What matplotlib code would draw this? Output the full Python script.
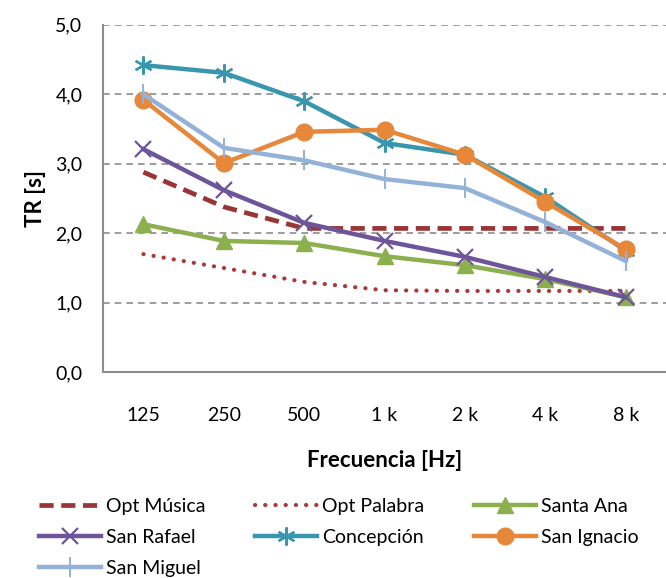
import matplotlib
matplotlib.use("Agg")
import matplotlib.pyplot as plt

plt.rcParams['font.family'] = ['Lato', 'DejaVu Sans']

frecuencias = ['125', '250', '500', '1 k', '2 k', '4 k', '8 k']

opt_musica = [2.88, 2.38, 2.07, 2.07, 2.07, 2.07, 2.07]
opt_palabra = [1.70, 1.50, 1.30, 1.18, 1.17, 1.17, 1.17]
santa_ana = [2.13, 1.89, 1.86, 1.67, 1.54, 1.34, 1.08]
san_rafael = [3.21, 2.62, 2.15, 1.89, 1.66, 1.37, 1.08]
concepcion = [4.42, 4.31, 3.90, 3.30, 3.13, 2.52, 1.75]
san_ignacio = [3.92, 3.01, 3.46, 3.49, 3.13, 2.45, 1.77]
san_miguel = [4.00, 3.23, 3.05, 2.78, 2.65, 2.16, 1.60]

fig = plt.figure(figsize=(6.66, 5.78), dpi=100)
ax = fig.add_axes([0.155, 0.356, 0.845, 0.601])

x = range(len(frecuencias))
lw = 3.2

h_om, = ax.plot(x, opt_musica, color='#9B3535', lw=3.4, ls=(0, (3.0, 1.6)), label='Opt Música')
h_op, = ax.plot(x, opt_palabra, color='#A83A38', lw=3.0, ls=(0, (0.05, 2.4)),
                dash_capstyle='round', label='Opt Palabra')
h_sa, = ax.plot(x, santa_ana, color='#8CB04E', lw=lw, marker='^', ms=12, label='Santa Ana')
h_sr, = ax.plot(x, san_rafael, color='#6E5499', lw=lw, marker='x', ms=12, mew=1.6, label='San Rafael')
h_co, = ax.plot(x, concepcion, color='#3896AF', lw=lw, marker=(6, 2, 0), ms=13, mew=1.6, label='Concepción')
h_si, = ax.plot(x, san_ignacio, color='#E6873A', lw=lw, marker='o', ms=12, label='San Ignacio')
h_sm, = ax.plot(x, san_miguel, color='#94B2D8', lw=lw, marker='|', ms=14, mew=1.4, label='San Miguel')

ax.set_xlim(-0.5, 6.5)
ax.set_ylim(0, 5)
ax.set_yticks([0, 1, 2, 3, 4, 5])
ax.set_yticklabels(['0,0', '1,0', '2,0', '3,0', '4,0', '5,0'])
ax.set_xticks(list(x))
ax.set_xticklabels(frecuencias)
ax.tick_params(axis='both', length=0, labelsize=14)
ax.tick_params(axis='x', pad=25)
ax.tick_params(axis='y', pad=15)

ax.yaxis.grid(True, color='#8C8C8C', ls=(0, (4, 3)), lw=1.2)
ax.set_axisbelow(True)
for side in ['top', 'right']:
    ax.spines[side].set_visible(False)
for side in ['left', 'bottom']:
    ax.spines[side].set_color('#8C8C8C')
    ax.spines[side].set_linewidth(1.5)

ax.set_ylabel('TR [s]', fontsize=16, fontweight='bold', labelpad=7)
ax.set_xlabel('Frecuencia [Hz]', fontsize=16, fontweight='bold', labelpad=19)

# legend is filled column by column, so order the handles to read row by row
handles = [h_om, h_sr, h_sm, h_op, h_co, h_sa, h_si]
fig.legend(handles=handles, labels=[h.get_label() for h in handles],
           loc='upper left', bbox_to_anchor=(0.047, 0.152), ncol=3,
           frameon=False, fontsize=14, handlelength=3.2, columnspacing=2.55,
           handletextpad=0.25, labelspacing=0.72, borderaxespad=0)

fig.savefig('out.png', dpi=100)
